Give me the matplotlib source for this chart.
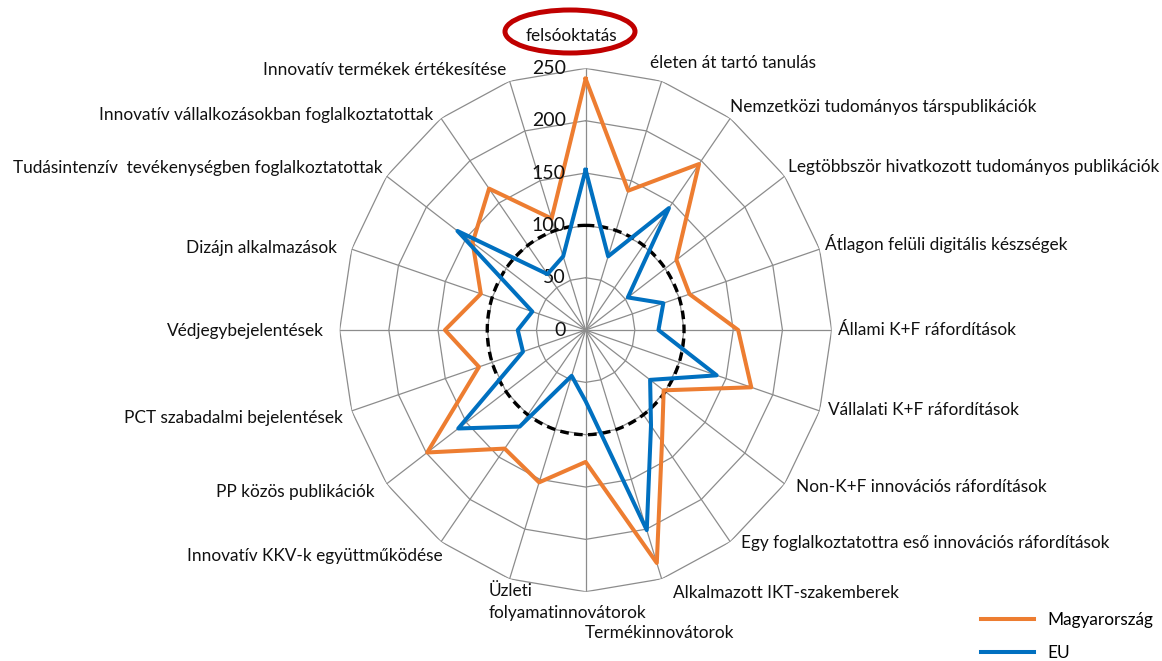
import numpy as np
import matplotlib
matplotlib.use("Agg")
import matplotlib.pyplot as plt
from matplotlib.patches import Ellipse
from matplotlib.lines import Line2D

plt.rcParams['font.family'] = ['Lato', 'DejaVu Sans']

categories = [
    "felsóoktatás",
    "életen át tartó tanulás",
    "Nemzetközi tudományos társpublikációk",
    "Legtöbbször hivatkozott tudományos publikációk",
    "Átlagon felüli digitális készségek",
    "Állami K+F ráfordítások",
    "Vállalati K+F ráfordítások",
    "Non-K+F innovációs ráfordítások",
    "Egy foglalkoztatottra eső innovációs ráfordítások",
    "Alkalmazott IKT-szakemberek",
    "Termékinnovátorok",
    "Üzleti\nfolyamatinnovátorok",
    "Innovatív KKV-k együttműködése",
    "PP közös publikációk",
    "PCT szabadalmi bejelentések",
    "Védjegybejelentések",
    "Dizájn alkalmazások",
    "Tudásintenzív  tevékenységben foglalkoztatottak",
    "Innovatív vállalkozásokban foglalkoztatottak",
    "Innovatív termékek értékesítése",
]

hu_values = [240, 140, 196, 114, 111, 155, 177, 98, 132, 234,
             126, 153, 140, 199, 114, 143, 112, 142, 167, 112]
eu_values = [153, 74, 144, 53, 83, 74, 140, 81, 113, 201,
             68, 46, 114, 160, 67, 69, 57, 161, 66, 74]

reference_level = 100
r_ticks = [0, 50, 100, 150, 200, 250]
r_max = 250

# label placement: (dx, dy) in pixels from the outer vertex, horizontal alignment
label_offsets = [
    (-14, 32, "center"), (-12, 18, "left"), (0, 11, "left"), (3, 9, "left"),
    (5, 6, "left"), (6, 0, "left"), (8, 1, "left"), (11, -3, "left"),
    (11, -1, "left"), (11, -14, "left"), (-1, -41, "left"), (-21, -23, "left"),
    (2, -14, "right"), (-12, -8, "right"), (-9, -7, "right"), (-16, -1, "right"),
    (-15, 1, "right"), (-4, 8, "right"), (-8, 3, "right"), (-3, 11, "right"),
]

orange = "#ED7D31"
blue = "#0070C0"
grid_col = "#8c8c8c"
text_col = "#111111"

n = len(categories)
theta = np.arange(n) * 2 * np.pi / n
theta_closed = np.append(theta, theta[0])

fig = plt.figure(figsize=(11.62, 6.61), dpi=100)
ax = fig.add_axes([0.2923, 0.1048, 0.4234, 0.7918], projection="polar")
ax.set_aspect("auto")
ax.set_theta_zero_location("N")
ax.set_theta_direction(-1)
ax.set_ylim(0, r_max)
ax.grid(False)
ax.set_xticks([])
ax.set_yticks([])
ax.spines["polar"].set_visible(False)
ax.patch.set_alpha(0)

# polygon grid
for r in r_ticks[1:]:
    ax.plot(theta_closed, [r] * (n + 1), color=grid_col, lw=0.9, zorder=1)
for t in theta:
    ax.plot([t, t], [0, r_max], color=grid_col, lw=0.9, zorder=1)

# reference circle
circ_t = np.linspace(0, 2 * np.pi, 300)
ax.plot(circ_t, [reference_level] * len(circ_t), color="black", lw=2.4,
        dashes=(2.6, 1.6), zorder=2)

ax.plot(theta_closed, hu_values + hu_values[:1], color=orange, lw=2.9, zorder=3)
ax.plot(theta_closed, eu_values + eu_values[:1], color=blue, lw=2.9, zorder=4)

# radial tick labels
for r in r_ticks:
    ax.annotate(str(r), (0, r), xytext=(-20, 0), textcoords="offset pixels",
                ha="right", va="center", fontsize=14, color=text_col)

# category labels
for t, lab, (dx, dy, ha) in zip(theta, categories, label_offsets):
    ax.annotate(lab, (t, r_max), xytext=(dx, dy), textcoords="offset pixels",
                ha=ha, va="center", fontsize=12.4, color=text_col,
                linespacing=1.5, annotation_clip=False)

# highlight of the first category
fig.add_artist(Ellipse((570 / 1162, 1 - 31.5 / 661), 130 / 1162, 43 / 661,
                       transform=fig.transFigure, fill=False,
                       ec="#C00000", lw=3.6))

handles = [Line2D([], [], color=orange, lw=2.9), Line2D([], [], color=blue, lw=2.9)]
fig.legend(handles, ["Magyarország", "EU"], loc="upper left",
           bbox_to_anchor=(981 / 1162, 1 - 612 / 661), frameon=False,
           fontsize=12.4, handlelength=3.1, handletextpad=0.75,
           labelspacing=1.0, borderpad=0, borderaxespad=0)

fig.savefig("out.png", dpi=100)
